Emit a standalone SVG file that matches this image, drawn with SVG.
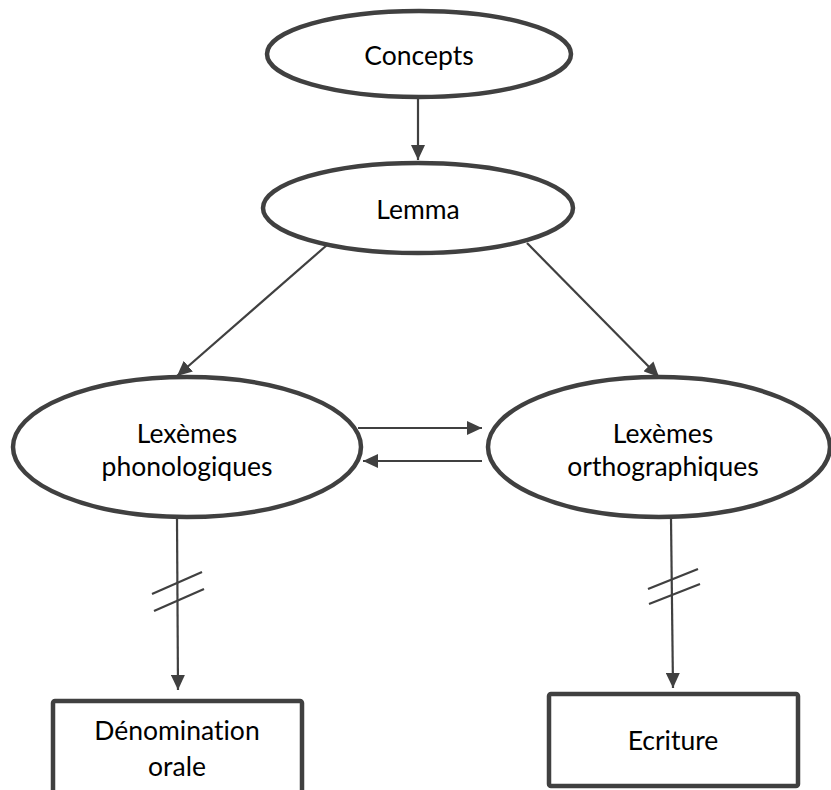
<svg xmlns="http://www.w3.org/2000/svg" width="831" height="790" viewBox="0 0 831 790">
<style>
.node{fill:#fff;stroke:#404040;stroke-width:4.5}
.lbl{font-family:Lato,"Open Sans","Liberation Sans",sans-serif;font-size:26.5px;fill:#000;text-anchor:middle;font-variant-ligatures:none}
.con{stroke:#404040;stroke-width:2.2;fill:none}
.hash{stroke:#404040;stroke-width:2.2;fill:none}
</style>
<defs>
<marker id="ah" markerUnits="userSpaceOnUse" markerWidth="16" markerHeight="14" refX="15" refY="7" orient="auto">
<path d="M0,0 L15,7 L0,14 z" fill="#404040"/>
</marker>
</defs>
<rect width="831" height="790" fill="#fff"/>
<g id="connectors">
<line class="con" x1="418" y1="99" x2="418" y2="160" marker-end="url(#ah)"/>
<line class="con" x1="327" y1="245" x2="177" y2="376" marker-end="url(#ah)"/>
<line class="con" x1="527" y1="243" x2="659" y2="377" marker-end="url(#ah)"/>
<line class="con" x1="358" y1="428" x2="482" y2="428" marker-end="url(#ah)"/>
<line class="con" x1="482" y1="461" x2="363" y2="461" marker-end="url(#ah)"/>
<line class="con" x1="177" y1="519" x2="178" y2="690" marker-end="url(#ah)"/>
<line class="con" x1="671" y1="519" x2="673" y2="688" marker-end="url(#ah)"/>
<line class="hash" x1="152" y1="594" x2="202" y2="572"/>
<line class="hash" x1="154" y1="611" x2="204" y2="589"/>
<line class="hash" x1="648" y1="589" x2="698" y2="569"/>
<line class="hash" x1="649" y1="604" x2="700" y2="584"/>
</g>
<g id="concepts">
<ellipse class="node" cx="419" cy="54" rx="152" ry="43"/>
<text class="lbl" x="419" y="65">Concepts</text>
</g>
<g id="lemma">
<ellipse class="node" cx="418" cy="208" rx="155" ry="45"/>
<text class="lbl" x="418" y="219">Lemma</text>
</g>
<g id="lex-phon">
<ellipse class="node" cx="187" cy="447" rx="174" ry="70"/>
<text class="lbl" x="187" y="443">Lexèmes</text>
<text class="lbl" x="187" y="476">phonologiques</text>
</g>
<g id="lex-orth">
<ellipse class="node" cx="659" cy="447" rx="171" ry="70"/>
<text class="lbl" x="663" y="443">Lexèmes</text>
<text class="lbl" x="663" y="476">orthographiques</text>
</g>
<g id="denomination">
<rect class="node" x="53" y="701" width="249" height="100" rx="2"/>
<text class="lbl" x="177" y="740">Dénomination</text>
<text class="lbl" x="177" y="776">orale</text>
</g>
<g id="ecriture">
<rect class="node" x="549" y="694" width="249" height="92" rx="2"/>
<text class="lbl" x="673" y="750">Ecriture</text>
</g>
</svg>
